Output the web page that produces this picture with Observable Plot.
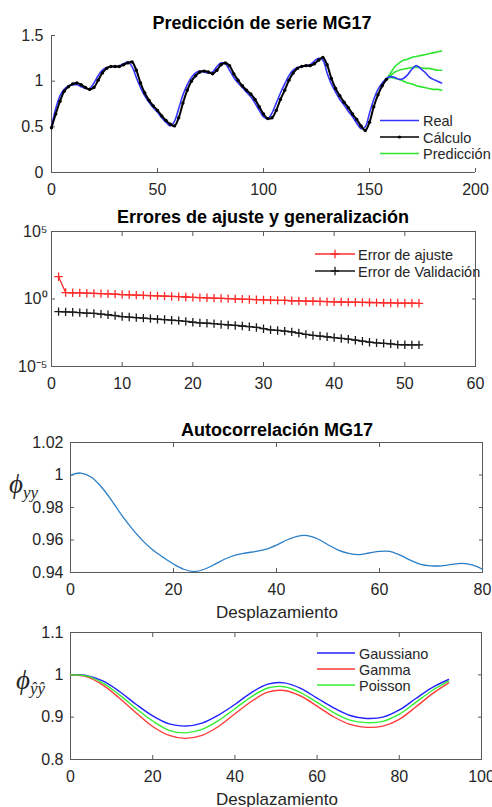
<!DOCTYPE html>
<html>
<head>
<meta charset="utf-8">
<script src="https://cdn.jsdelivr.net/npm/d3@7"></script>
<script src="https://cdn.jsdelivr.net/npm/@observablehq/plot@0.6"></script>
<style>
  body { margin: 0; background: #fff; }
  #fig { position: relative; width: 492px; height: 807px; overflow: hidden; background: #fff;
         font-family: "Liberation Sans", Arial, sans-serif; }
</style>
</head>
<body>
<div id="fig"></div>
<script>
// ---------- Panel 1: MG17 series, fitted model and free-run predictions ----------
const serieStep = 2;
const serieReal = [
  0.50,0.70,0.84,0.91,0.95,0.96,0.96,0.94,0.92,0.92,
  0.98,1.06,1.12,1.15,1.16,1.16,1.17,1.19,1.21,1.16,
  1.04,0.93,0.84,0.77,0.71,0.66,0.60,0.55,0.51,0.56,
  0.70,0.85,0.96,1.04,1.09,1.11,1.10,1.09,1.10,1.16,
  1.20,1.19,1.12,1.04,0.98,0.93,0.88,0.83,0.76,0.68,
  0.61,0.59,0.65,0.76,0.87,0.97,1.06,1.12,1.15,1.16,
  1.17,1.18,1.22,1.25,1.23,1.09,0.97,0.88,0.80,0.74,
  0.67,0.61,0.54,0.48,0.50,0.65,0.80,0.91,0.98,1.03,
  1.05,1.04,1.02,1.03,1.07,1.13,1.17,1.14,1.10,1.05,1.02,1.00,0.98
];
const serieCalculo = [
  0.49,0.64,0.78,0.89,0.94,0.97,0.98,0.96,0.93,0.91,
  0.93,1.01,1.09,1.14,1.16,1.16,1.16,1.18,1.20,1.21,
  1.12,0.98,0.87,0.79,0.73,0.68,0.62,0.57,0.53,0.51,
  0.60,0.76,0.90,1.00,1.06,1.10,1.11,1.10,1.08,1.12,
  1.18,1.20,1.17,1.08,1.01,0.95,0.90,0.86,0.80,0.72,
  0.64,0.59,0.60,0.68,0.80,0.90,1.01,1.09,1.14,1.16,
  1.17,1.17,1.19,1.23,1.26,1.18,1.03,0.92,0.84,0.77,
  0.71,0.64,0.58,0.51,0.46,0.55,0.72,0.85,0.95,1.02
];
const predStart = 158;
const predAlta  = [1.02,1.09,1.16,1.20,1.23,1.24,1.26,1.27,1.28,1.29,1.30,1.31,1.32,1.33];
const predMedia = [1.02,1.06,1.10,1.12,1.13,1.14,1.15,1.15,1.15,1.14,1.14,1.13,1.12,1.12];
const predBaja  = [1.02,1.04,1.03,1.02,1.00,0.98,0.97,0.95,0.94,0.93,0.92,0.91,0.91,0.90];
const ticksX1 = [0, 50, 100, 150, 200];
const ticksY1 = [0, 0.5, 1, 1.5];

// ---------- Panel 2: training and validation error per iteration ----------
const errorAjuste = [
  45, 3.0, 2.88, 2.82, 2.69, 2.63, 2.51, 2.40, 2.29, 2.14,
  2.04, 1.95, 1.86, 1.78, 1.70, 1.62, 1.55, 1.48, 1.41, 1.32,
  1.26, 1.23, 1.17, 1.12, 1.07, 1.02, 0.98, 0.93, 0.89, 0.85,
  0.83, 0.79, 0.78, 0.74, 0.72, 0.69, 0.68, 0.66, 0.63, 0.62,
  0.60, 0.59, 0.58, 0.56, 0.55, 0.54, 0.52, 0.51, 0.50, 0.49,
  0.49, 0.48
];
const errorValidacion = [
  0.117, 0.112, 0.105, 0.098, 0.091, 0.085, 0.076, 0.068, 0.059, 0.050,
  0.046, 0.042, 0.038, 0.035, 0.032, 0.030, 0.027, 0.025, 0.022, 0.019,
  0.017, 0.016, 0.015, 0.013, 0.012, 0.011, 0.010, 0.0089, 0.0078, 0.0063,
  0.0052, 0.0047, 0.0042, 0.0037, 0.0030, 0.0024, 0.0020, 0.0018, 0.0016, 0.0014,
  0.0012, 0.00105, 0.00089, 0.00076, 0.00063, 0.00056, 0.00052, 0.00048, 0.00042, 0.00041,
  0.00040, 0.00040
];
const ticksX2 = [0, 10, 20, 30, 40, 50, 60];
const ticksY2 = [1e-5, 1, 1e5];
const labelsY2 = new Map([[1e-5, "10⁻⁵"], [1, "10⁰"], [1e5, "10⁵"]]);

// ---------- Panel 3: autocorrelation of the series ----------
const lagStep3 = 2;
const autocorr = [
  1.000,1.0012,0.9988,0.9926,0.9843,0.975,0.9668,0.9596,0.9538,0.9493,
  0.9452,0.942,0.9406,0.942,0.945,0.9483,0.9507,0.952,0.953,0.9544,
  0.9569,0.96,0.9623,0.9627,0.9606,0.9571,0.9538,0.9518,0.951,0.952,
  0.953,0.953,0.9507,0.9476,0.945,0.9441,0.9441,0.945,0.9456,0.9447,0.942
];
const ticksX3 = [0, 20, 40, 60, 80];
const ticksY3 = [0.94, 0.96, 0.98, 1, 1.02];

// ---------- Panel 4: autocorrelation of the predictions per noise type ----------
const lagStep4 = 4;
const acGaussiano = [1.000,0.998,0.985,0.960,0.930,0.903,0.884,0.879,0.886,0.905,0.930,0.958,0.978,0.981,0.968,0.945,0.922,0.904,0.897,0.900,0.917,0.944,0.970,0.989];
const acGamma     = [1.000,0.995,0.975,0.944,0.910,0.878,0.857,0.850,0.857,0.878,0.908,0.937,0.959,0.963,0.950,0.926,0.901,0.883,0.876,0.879,0.895,0.924,0.955,0.981];
const acPoisson   = [1.000,0.997,0.980,0.952,0.920,0.891,0.869,0.863,0.871,0.892,0.920,0.948,0.969,0.972,0.958,0.935,0.911,0.893,0.887,0.890,0.907,0.935,0.963,0.985];
const ticksX4 = [0, 20, 40, 60, 80, 100];
const ticksY4 = [0.8, 0.9, 1, 1.1];

// ---------- styling ----------
const AXIS = "#5a5a5a";
const TEXT = "#262626";
const FONT = "'Liberation Sans', Arial, sans-serif";
const C = {
  real: "#3434ff", calculo: "#000000", pred: "#2ee62e",
  red: "#ff2a2a", black: "#1a1a1a",
  matlab: "#2a7fc8",
  gauss: "#2222ff", gamma: "#ff3a3a", poisson: "#33ee33"
};

const fig = document.getElementById("fig");
const series = (xs, ys) => ys.map((y, i) => ({x: xs(i), y}));
const plain = d => String(d);

// Inward MATLAB-style ticks plus tick labels.
function axes({xt, yt, box, xPad, yPad, yFormat = plain, fontSize = 16}) {
  const tick = {stroke: AXIS, tickSize: 4, fill: "none", label: null};
  const txt = {tickSize: 0, label: null, fill: TEXT, stroke: "none", fontSize};
  const m = [
    Plot.axisX(xt, {...tick, anchor: "bottom", dy: -4}),
    Plot.axisY(yt, {...tick, anchor: "left", dx: 4}),
    Plot.axisX(xt, {...txt, anchor: "bottom", tickPadding: xPad, tickFormat: plain}),
    Plot.axisY(yt, {...txt, anchor: "left", tickPadding: yPad, tickFormat: yFormat})
  ];
  if (box) {
    m.push(
      Plot.axisX(xt, {...tick, anchor: "top", dy: 4}),
      Plot.axisY(yt, {...tick, anchor: "right", dx: -4}),
      Plot.frame({stroke: AXIS})
    );
  } else {
    m.push(Plot.ruleX([xt[0]], {stroke: AXIS}), Plot.ruleY([yt[0]], {stroke: AXIS}));
  }
  return m;
}

function place(svg, top) {
  svg.style.position = "absolute";
  svg.style.left = "0px";
  svg.style.top = top + "px";
  fig.append(svg);
}

const baseStyle = {background: "transparent", overflow: "visible", fontFamily: FONT, fontSize: "16px", color: TEXT};

// Panel 1
const dReal = series(i => i * serieStep, serieReal);
const dCalc = series(i => i * serieStep, serieCalculo);
const preds = [predAlta, predMedia, predBaja].map((p, k) =>
  series(i => predStart + i * serieStep, p).map(d => ({...d, run: k})));
place(Plot.plot({
  width: 492, height: 200,
  marginLeft: 51, marginRight: 17, marginTop: 35, marginBottom: 28,
  style: baseStyle,
  x: {domain: [0, 200]},
  y: {domain: [0, 1.5]},
  marks: [
    ...axes({xt: ticksX1, yt: ticksY1, box: false, xPad: 11, yPad: 8}),
    Plot.line(preds.flat(), {x: "x", y: "y", z: "run", stroke: C.pred, strokeWidth: 1.6, curve: "catmull-rom"}),
    Plot.line(dReal, {x: "x", y: "y", stroke: C.real, strokeWidth: 1.6, curve: "catmull-rom"}),
    Plot.line(dCalc, {x: "x", y: "y", stroke: C.calculo, strokeWidth: 2, curve: "catmull-rom"}),
    Plot.dot(dCalc, {x: "x", y: "y", r: 1.7, fill: C.calculo})
  ]
}), 0);

// Panel 2
const plusSymbol = {
  draw(ctx, size) {
    const r = Math.sqrt(size / Math.PI);
    ctx.moveTo(-r, 0); ctx.lineTo(r, 0);
    ctx.moveTo(0, -r); ctx.lineTo(0, r);
  }
};
const dAjuste = series(i => i + 1, errorAjuste);
const dValid = series(i => i + 1, errorValidacion);
place(Plot.plot({
  width: 492, height: 195,
  marginLeft: 51, marginRight: 17, marginTop: 31, marginBottom: 29,
  style: baseStyle,
  x: {domain: [0, 60]},
  y: {type: "log", domain: [1e-5, 1e5]},
  marks: [
    ...axes({xt: ticksX2, yt: ticksY2, box: true, xPad: 11, yPad: 4, yFormat: d => labelsY2.get(d)}),
    Plot.line(dAjuste, {x: "x", y: "y", stroke: C.red, strokeWidth: 1.3}),
    Plot.dot(dAjuste, {x: "x", y: "y", r: 4.2, symbol: plusSymbol, fill: "none", stroke: C.red, strokeWidth: 1.3}),
    Plot.line(dValid, {x: "x", y: "y", stroke: C.black, strokeWidth: 1.3}),
    Plot.dot(dValid, {x: "x", y: "y", r: 4.2, symbol: plusSymbol, fill: "none", stroke: C.black, strokeWidth: 1.3})
  ]
}), 200);

// Panel 3
place(Plot.plot({
  width: 492, height: 225,
  marginLeft: 70, marginRight: 10, marginTop: 47, marginBottom: 48,
  style: baseStyle,
  x: {domain: [0, 80]},
  y: {domain: [0.94, 1.02]},
  marks: [
    ...axes({xt: ticksX3, yt: ticksY3, box: true, xPad: 11, yPad: 7}),
    Plot.line(series(i => i * lagStep3, autocorr), {x: "x", y: "y", stroke: C.matlab, strokeWidth: 1.3, curve: "catmull-rom"})
  ]
}), 395);

// Panel 4
const acSeries = [["Gaussiano", acGaussiano], ["Gamma", acGamma], ["Poisson", acPoisson]];
const dAc = acSeries.flatMap(([name, vals]) => series(i => i * lagStep4, vals).map(d => ({...d, name})));
place(Plot.plot({
  width: 492, height: 187,
  marginLeft: 70, marginRight: 11, marginTop: 12, marginBottom: 48,
  style: baseStyle,
  x: {domain: [0, 100]},
  y: {domain: [0.8, 1.1]},
  color: {domain: ["Gaussiano", "Gamma", "Poisson"], range: [C.gauss, C.gamma, C.poisson]},
  marks: [
    ...axes({xt: ticksX4, yt: ticksY4, box: true, xPad: 11, yPad: 7}),
    Plot.line(dAc, {x: "x", y: "y", z: "name", stroke: "name", strokeWidth: 1.4, curve: "catmull-rom"})
  ]
}), 620);

// ---------- titles, axis labels and legends ----------
const ov = d3.select(fig).append("svg")
  .attr("width", 492).attr("height", 807)
  .style("position", "absolute").style("left", "0px").style("top", "0px")
  .style("pointer-events", "none")
  .attr("font-family", FONT);

function label(x, y, str, {size = 16, weight = "normal", anchor = "start", fill = TEXT} = {}) {
  return ov.append("text").attr("x", x).attr("y", y).attr("font-size", size)
    .attr("font-weight", weight).attr("text-anchor", anchor).attr("fill", fill).text(str);
}

label(262, 29, "Predicción de serie MG17", {size: 18, weight: "bold", anchor: "middle", fill: "#000"});
label(263, 223, "Errores de ajuste y generalización", {size: 18, weight: "bold", anchor: "middle", fill: "#000"});
label(277, 436, "Autocorrelación MG17", {size: 18, weight: "bold", anchor: "middle", fill: "#000"});
label(277, 618, "Desplazamiento", {size: 17, anchor: "middle"});
label(277, 805, "Desplazamiento", {size: 17, anchor: "middle"});

// φ axis labels (math italic)
function phiLabel(x, y, sub) {
  const t = ov.append("text").attr("x", x).attr("y", y)
    .attr("font-family", "'Liberation Serif', 'DejaVu Serif', serif")
    .attr("font-style", "italic").attr("fill", TEXT);
  t.append("tspan").attr("font-size", 27).text("ϕ");
  t.append("tspan").attr("font-size", 17).attr("dy", 5).text(sub);
}
phiLabel(9, 493, "yy");
phiLabel(16, 689, "ŷŷ");

function legend(x0, x1, tx, rows, size = 14.5) {
  rows.forEach(r => {
    ov.append("line").attr("x1", x0).attr("x2", x1).attr("y1", r.y).attr("y2", r.y)
      .attr("stroke", r.color).attr("stroke-width", r.width || 1.6);
    const mx = (x0 + x1) / 2;
    if (r.marker === "dot") {
      ov.append("circle").attr("cx", mx).attr("cy", r.y).attr("r", 1.6).attr("fill", r.color);
    } else if (r.marker === "plus") {
      ov.append("path").attr("d", `M${mx - 4.2},${r.y}H${mx + 4.2}M${mx},${r.y - 4.2}V${r.y + 4.2}`)
        .attr("stroke", r.color).attr("stroke-width", 1.3);
    }
    label(tx, r.y + 5.5, r.text, {size});
  });
}
legend(380, 419, 423, [
  {y: 120.5, color: C.real, text: "Real"},
  {y: 137, color: C.calculo, text: "Cálculo", marker: "dot", width: 1.3},
  {y: 153.5, color: C.pred, text: "Predicción"}
]);
legend(315, 355, 358, [
  {y: 254, color: C.red, text: "Error de ajuste", marker: "plus", width: 1.3},
  {y: 271, color: C.black, text: "Error de Validación", marker: "plus", width: 1.3}
]);
legend(317, 355, 359, [
  {y: 653, color: C.gauss, text: "Gaussiano"},
  {y: 669, color: C.gamma, text: "Gamma"},
  {y: 685, color: C.poisson, text: "Poisson"}
]);
</script>
</body>
</html>
